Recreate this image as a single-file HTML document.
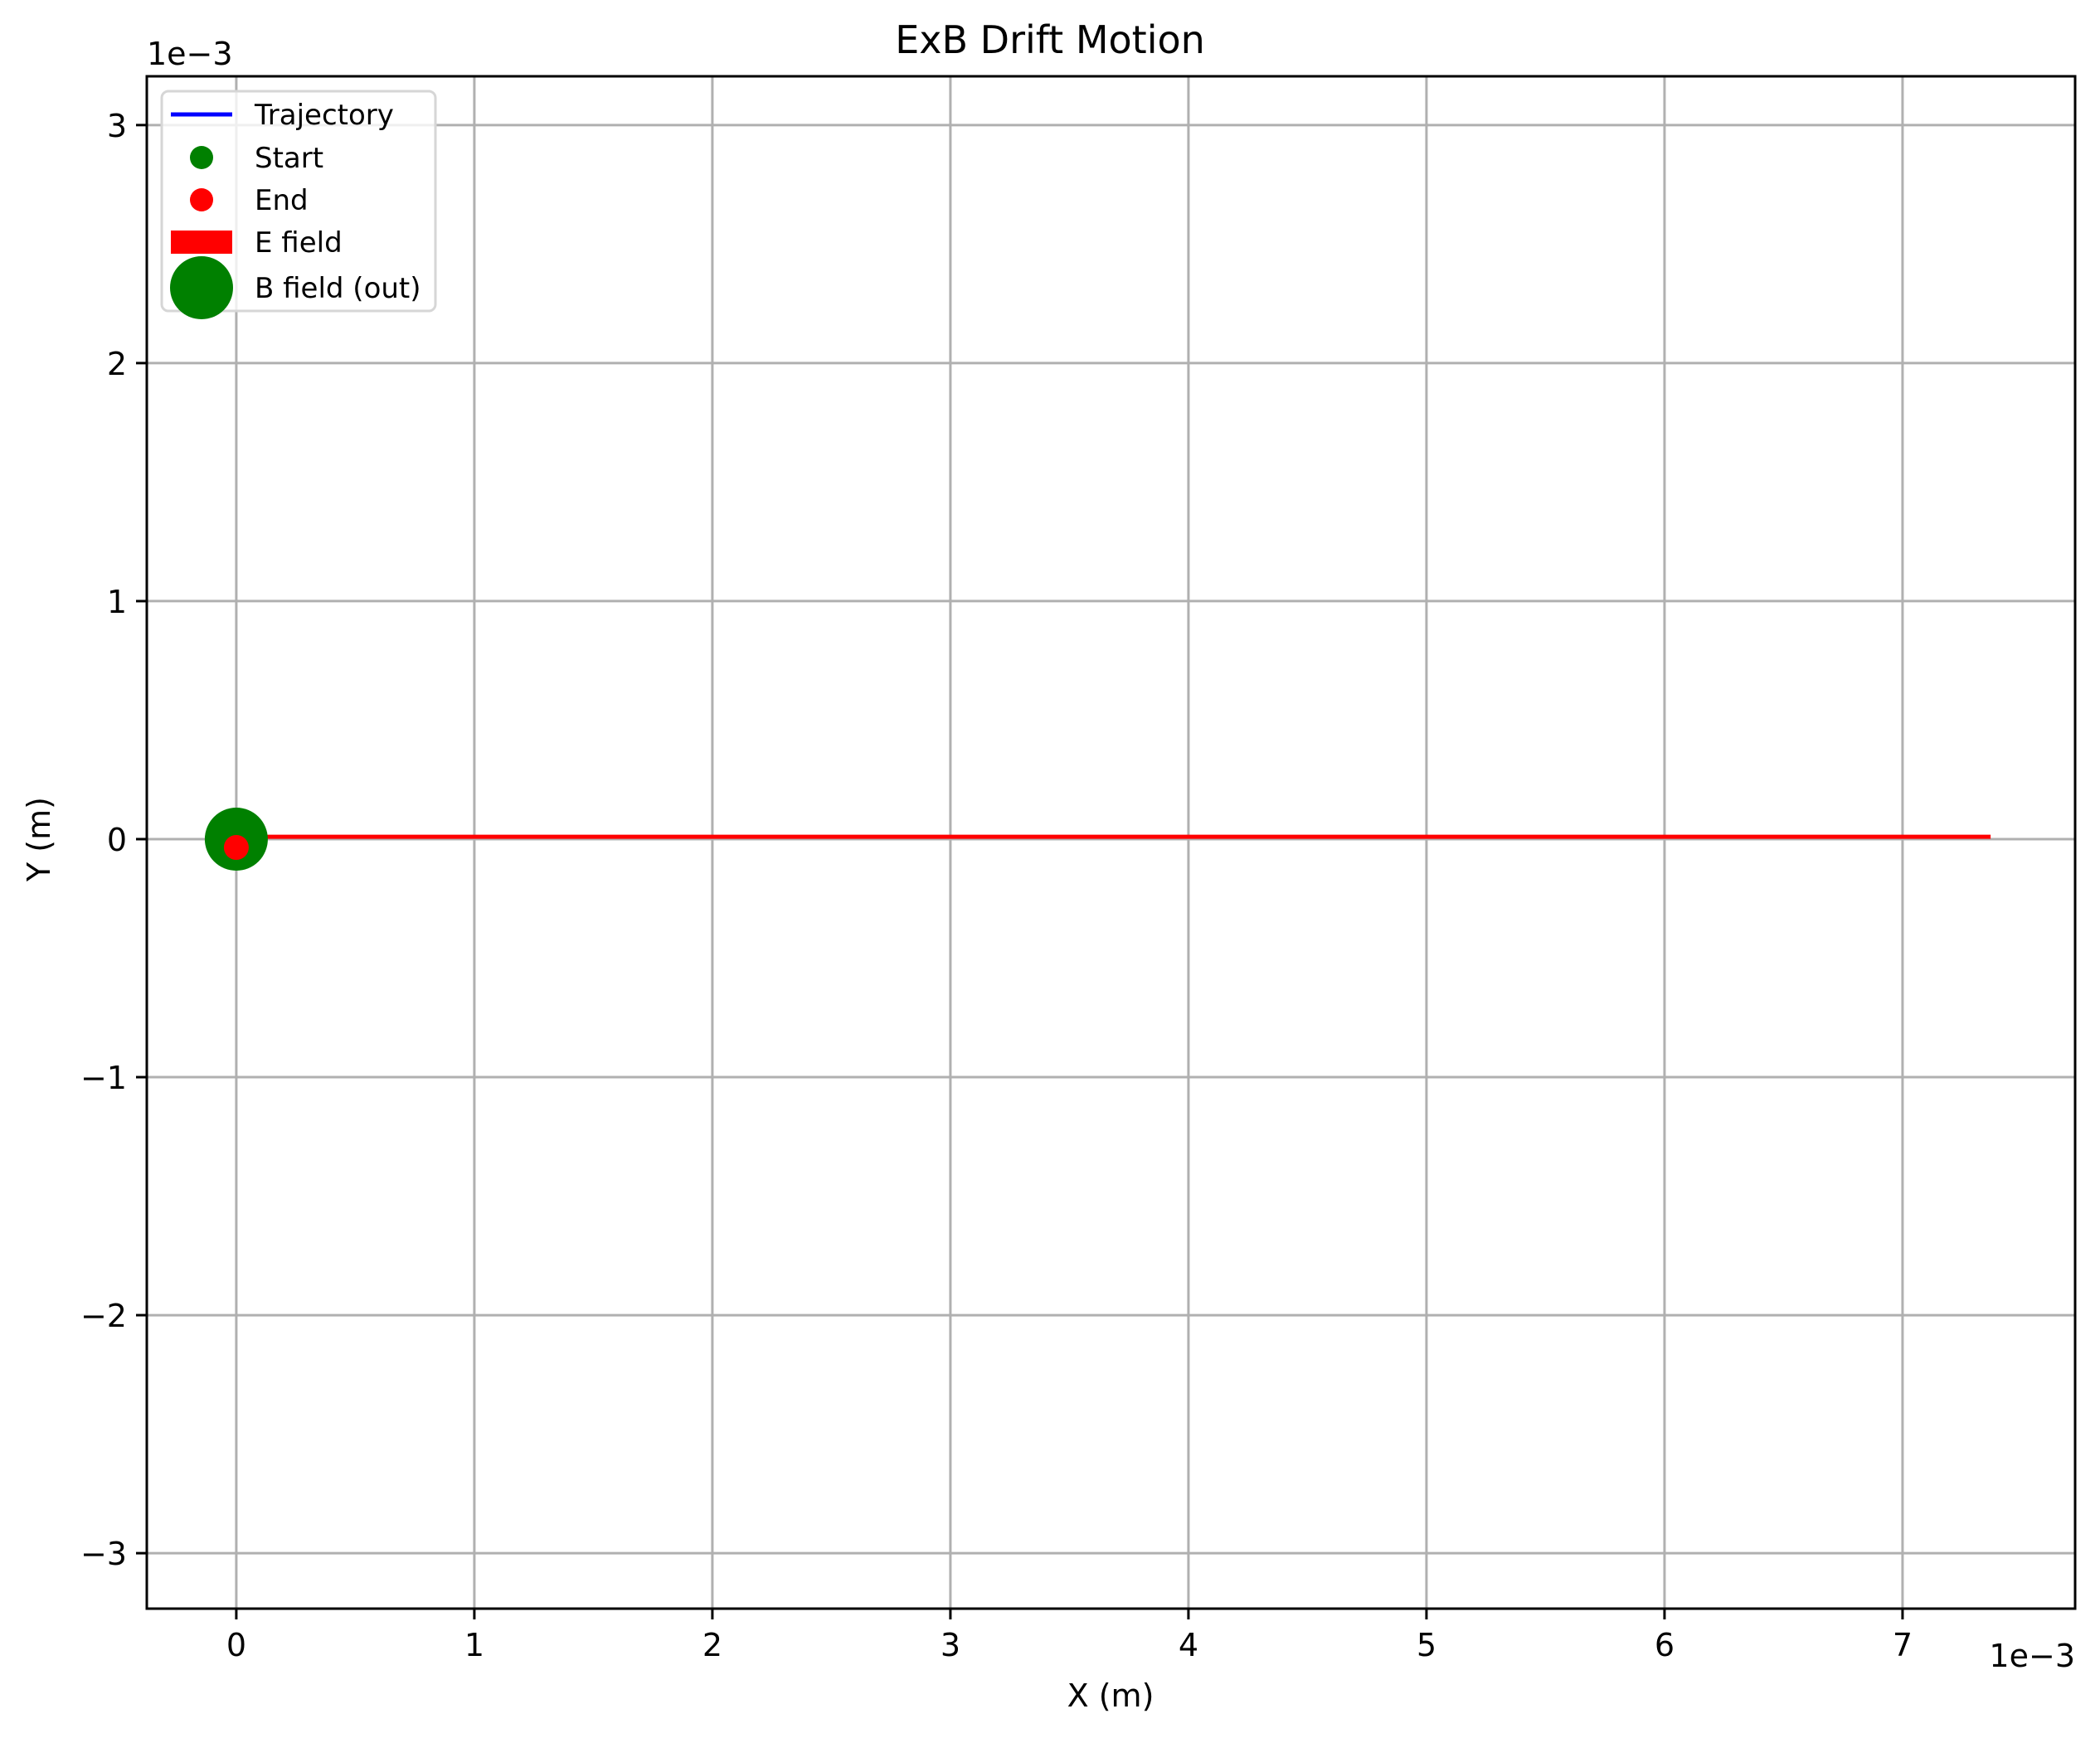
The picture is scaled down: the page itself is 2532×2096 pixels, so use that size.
<!DOCTYPE html>
<html><head><meta charset="utf-8"><style>
html,body{margin:0;padding:0;background:#fff}
svg{display:block;font-family:"DejaVu Sans","Liberation Sans",sans-serif}
</style></head><body>
<svg id="chart" width="2532" height="2096" viewBox="0 0 2532 2096">
<rect width="2532" height="2096" fill="#fff"/>
<g id="grid"></g>
<g id="marks"></g>
<rect x="177" y="92" width="2325" height="1848" fill="none" stroke="#000" stroke-width="3"/>
<g id="ticks"></g>
<text x="1266" y="64" font-size="46" text-anchor="middle">ExB Drift Motion</text>
<text x="1339" y="2058" font-size="38" text-anchor="middle">X (m)</text>
<text x="60" y="1012" font-size="38" text-anchor="middle" transform="rotate(-90 60 1012)">Y (m)</text>
<text x="177" y="78" font-size="38">1e−3</text>
<text x="2502" y="2010" font-size="38" text-anchor="end">1e−3</text>
<g>
<rect x="195" y="110" width="330" height="265" rx="8" fill="#fff" fill-opacity="0.8" stroke="#d6d6d6" stroke-width="3"/>
<line x1="206" y1="138" x2="280" y2="138" stroke="#0000ff" stroke-width="5"/>
<text x="307" y="150" font-size="34">Trajectory</text>
<circle cx="243" cy="190" r="14" fill="#008000"/>
<text x="307" y="202" font-size="34">Start</text>
<circle cx="243" cy="241" r="14" fill="#ff0000"/>
<text x="307" y="253" font-size="34">End</text>
<rect x="206" y="278" width="74" height="28" fill="#ff0000"/>
<text x="307" y="304" font-size="34">E field</text>
<circle cx="243" cy="347" r="38" fill="#008000"/>
<text x="307" y="359" font-size="34">B field (out)</text>
</g>
</svg>
<script>
const xTicks=[0,1,2,3,4,5,6,7];
const yTicks=[-3,-2,-1,0,1,2,3];
const xDomain=[-0.376,7.725];
const yDomain=[-3.233,3.205];
const trajX=[0,7.37];
const trajY=[0.01,0.01];
const startPt=[0,0];
const endPt=[0,-0.035];
const bFieldPt=[0,0];
const NS='http://www.w3.org/2000/svg';
const L=177,R=2502,T=92,B=1940;
function sx(v){return L+(v-xDomain[0])/(xDomain[1]-xDomain[0])*(R-L);}
function sy(v){return B-(v-yDomain[0])/(yDomain[1]-yDomain[0])*(B-T);}
function mk(tag,a,p){const e=document.createElementNS(NS,tag);for(const k in a)e.setAttribute(k,a[k]);p.appendChild(e);return e;}
const g=document.getElementById('grid'),tk=document.getElementById('ticks'),m=document.getElementById('marks');
xTicks.forEach(v=>{
 const x=sx(v);
 const gl=mk('line',{x1:x,x2:x,y1:T,y2:B,stroke:'#b0b0b0','stroke-width':3},g);
 
 
 const t=mk('line',{x1:x,x2:x,y1:B,y2:B+13,stroke:'#000','stroke-width':3},tk);
 
 
 const lb=mk('text',{x:x,y:B+57,'font-size':38,'text-anchor':'middle'},tk);
 lb.textContent=String(v);
 
 
});
yTicks.forEach(v=>{
 const y=sy(v);
 const gl=mk('line',{x1:L,x2:R,y1:y,y2:y,stroke:'#b0b0b0','stroke-width':3},g);
 
 
 const t=mk('line',{x1:L-13,x2:L,y1:y,y2:y,stroke:'#000','stroke-width':3},tk);
 
 
 const lb=mk('text',{x:L-24,y:y+14,'font-size':38,'text-anchor':'end'},tk);
 lb.textContent=(v<0?'\u2212':'')+Math.abs(v);
 
 
});
const pts=trajX.map((x,i)=>sx(x)+','+sy(trajY[i])).join(' ');
const tr=mk('polyline',{points:pts,fill:'none',stroke:'#ff0000','stroke-width':5},m);


const s=mk('circle',{cx:sx(startPt[0]),cy:sy(startPt[1]),r:14,fill:'#008000'},m);


const bf=mk('circle',{cx:sx(bFieldPt[0]),cy:sy(bFieldPt[1]),r:38,fill:'#008000'},m);


const en=mk('circle',{cx:sx(endPt[0]),cy:sy(endPt[1]),r:15,fill:'#ff0000'},m);


</script>
</body></html>
